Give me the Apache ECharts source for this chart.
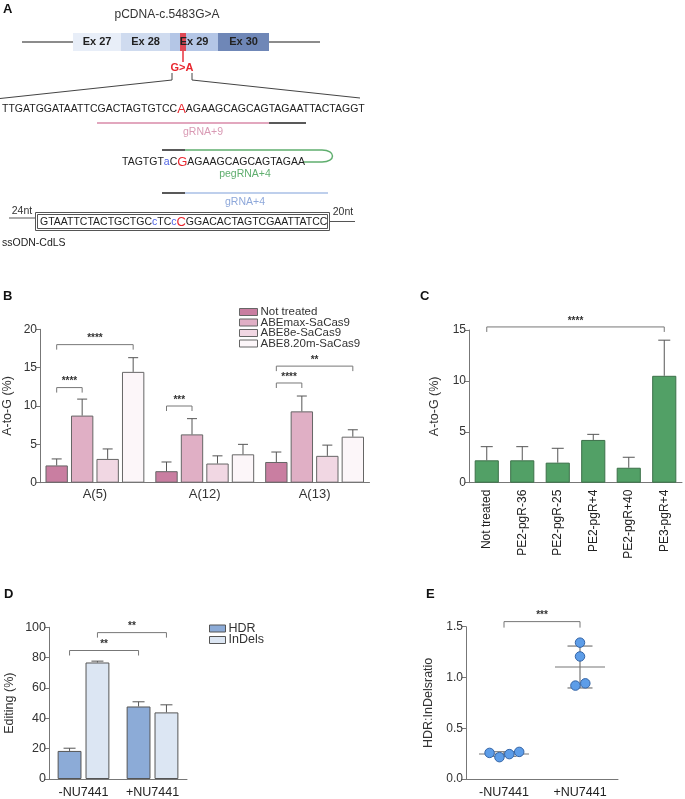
<!DOCTYPE html>
<html>
<head>
<meta charset="utf-8">
<script src="https://cdn.jsdelivr.net/npm/echarts@6/dist/echarts.min.js"></script>
<style>
  html, body { margin: 0; background: #fff; }
  #main { width: 685px; height: 799px; }
</style>
</head>
<body>
<div id="main"></div>
<script>
// ---- panel B: base editors ----
var groupsB = ['A(5)', 'A(12)', 'A(13)'];
var editorsB = ['Not treated', 'ABEmax-SaCas9', 'ABE8e-SaCas9', 'ABE8.20m-SaCas9'];
var notTreatedB = [2.25, 1.5, 2.7];
var notTreatedSdB = [0.85, 1.2, 1.3];
var abeMaxB = [8.75, 6.3, 9.3];
var abeMaxSdB = [2.15, 2.05, 2.0];
var abe8eB = [3.1, 2.5, 3.5];
var abe8eSdB = [1.3, 1.0, 1.4];
var abe820mB = [14.45, 3.7, 6.0];
var abe820mSdB = [1.85, 1.3, 0.9];
// [group, editor, group, editor, y, stars]
var bracketsB = [
  [0, 0, 0, 3, 18.0, '****'],
  [0, 0, 0, 1, 12.4, '****'],
  [1, 0, 1, 1, 10.0, '***'],
  [2, 0, 2, 1, 13.0, '****'],
  [2, 0, 2, 3, 15.2, '**']
];

// ---- panel C: prime editing ----
var treatC = ['Not treated', 'PE2-pgR-36', 'PE2-pgR-25', 'PE2-pgR+4', 'PE2-pgR+40', 'PE3-pgR+4'];
var valuesC = [2.2, 2.2, 1.97, 4.2, 1.47, 10.5];
var sdC = [1.34, 1.34, 1.41, 0.55, 1.03, 3.5];
var bracketsC = [[0, 0, 5, 0, 15.3, '****']];

// ---- panel D: HDR vs InDels ----
var condD = ['-NU7441', '+NU7441'];
var hdrD = [18.5, 47.8];
var hdrSdD = [1.8, 3.1];
var indelsD = [76.8, 43.9];
var indelsSdD = [0.9, 5.0];
var bracketsD = [[0, 0, 1, 0, 84.7, '**'], [0, 1, 1, 1, 96.5, '**']];

// ---- panel E: HDR:InDels ratio ----
var condE = ['-NU7441', '+NU7441'];
var ratioMinus = [0.257, 0.215, 0.245, 0.267];
var ratioPlus = [1.343, 1.207, 0.92, 0.942];
var jitterMinus = [-0.19, -0.06, 0.07, 0.2];
var jitterPlus = [0, 0, -0.06, 0.07];
var bracketE = [0.5, 1.5, 1.55, '***'];

var F = "'Liberation Sans', Arial, sans-serif";
var FN = "'Liberation Sans Narrow', 'Liberation Sans', Arial, sans-serif";

var chart = echarts.init(document.getElementById('main'), null, { renderer: 'canvas' });

function barOffset(band, pos, n, catGap, barGap) {
  var used = band * (1 - catGap);
  var w = used / (n + (n - 1) * barGap);
  return -used / 2 + pos * w * (1 + barGap) + w / 2;
}

function errSeries(idx, vals, sds, pos, n, catGap, barGap, capW) {
  return {
    type: 'custom', xAxisIndex: idx, yAxisIndex: idx, z: 5, silent: true,
    data: vals.map(function (v, i) { return [i, v, v + sds[i]]; }),
    renderItem: function (params, api) {
      var band = api.size([1, 0])[0];
      var x = api.coord([api.value(0), 0])[0] + barOffset(band, pos, n, catGap, barGap);
      var y0 = api.coord([0, api.value(1)])[1];
      var y1 = api.coord([0, api.value(2)])[1];
      var st = { stroke: '#555', lineWidth: 1 };
      return { type: 'group', children: [
        { type: 'line', shape: { x1: x, y1: y0, x2: x, y2: y1 }, style: st },
        { type: 'line', shape: { x1: x - capW / 2, y1: y1, x2: x + capW / 2, y2: y1 }, style: st }
      ] };
    }
  };
}

function bracketSeries(idx, list, n, catGap, barGap) {
  return {
    type: 'custom', xAxisIndex: idx, yAxisIndex: idx, z: 6, silent: true, clip: false,
    data: list.map(function (b) { return [b[0], b[4]]; }),
    renderItem: function (params, api) {
      var b = list[params.dataIndex];
      var band = api.size([1, 0])[0];
      var xa = api.coord([b[0], 0])[0] + barOffset(band, b[1], n, catGap, barGap);
      var xb = api.coord([b[2], 0])[0] + barOffset(band, b[3], n, catGap, barGap);
      var y = api.coord([0, b[4]])[1];
      return { type: 'group', children: [
        { type: 'polyline', shape: { points: [[xa, y + 5], [xa, y], [xb, y], [xb, y + 5]] },
          style: { stroke: '#777', fill: null, lineWidth: 1 } },
        { type: 'text', x: (xa + xb) / 2, y: y - 1,
          style: { text: b[5], fill: '#333', font: 'bold 10px ' + F, align: 'center', verticalAlign: 'bottom',
                   textAlign: 'center', textVerticalAlign: 'bottom' } }
      ] };
    }
  };
}

function barSeries(idx, name, vals, color, border, catGap, barGap) {
  return {
    type: 'bar', name: name, xAxisIndex: idx, yAxisIndex: idx,
    data: vals, barCategoryGap: catGap, barGap: barGap,
    itemStyle: { color: color, borderColor: border, borderWidth: 1 },
    silent: true
  };
}

function yAxisOf(idx, min, max, step, name, gap, size, fmt) {
  return {
    type: 'value', gridIndex: idx, min: min, max: max, interval: step,
    name: name, nameLocation: 'middle', nameGap: gap,
    nameTextStyle: { color: '#333', fontSize: 12.5, fontFamily: F },
    axisLine: { show: true, lineStyle: { color: '#777' } },
    axisTick: { show: true, length: 4, lineStyle: { color: '#777' } },
    axisLabel: { color: '#333', fontSize: size, margin: 3, fontFamily: F, formatter: fmt },
    splitLine: { show: false }
  };
}

function xCatOf(idx, data, label) {
  return {
    type: 'category', gridIndex: idx, data: data,
    axisLine: { lineStyle: { color: '#777' } },
    axisTick: { show: false },
    axisLabel: label
  };
}

// mean / SD for panel E
function meanSd(a) {
  var m = a.reduce(function (s, v) { return s + v; }, 0) / a.length;
  var v = a.reduce(function (s, x) { return s + (x - m) * (x - m); }, 0) / (a.length - 1);
  return [m, Math.sqrt(v)];
}
var statMinus = meanSd(ratioMinus);
var statPlus = meanSd(ratioPlus);

// ---- schematic (panel A) ----
function txt(x, y, s, font, fill, align) {
  return { type: 'text', x: x, y: y, silent: true,
    style: { text: s, font: font, fill: fill || '#222', align: align || 'left', verticalAlign: 'middle',
             textAlign: align || 'left', textVerticalAlign: 'middle' } };
}
function ln(x1, y1, x2, y2, color, w) {
  return { type: 'line', silent: true, shape: { x1: x1, y1: y1, x2: x2, y2: y2 },
    style: { stroke: color, lineWidth: w || 1 } };
}
function richTxt(x, y, s, rich) {
  return { type: 'text', x: x, y: y, silent: true,
    style: { text: s, rich: rich, font: '10.5px ' + F, fill: '#222', align: 'left', verticalAlign: 'middle',
             textAlign: 'left', textVerticalAlign: 'middle' } };
}
var seqRich = {
  k: { fill: '#222', font: '10.5px ' + F },
  r: { fill: '#e8262e', font: '13px ' + F },
  b: { fill: '#4f63e6', font: '10.5px ' + F }
};
var exons = [
  ['Ex 27', 73, 121, '#e8eef8'],
  ['Ex 28', 121, 170, '#cfdbef'],
  ['Ex 29', 170, 218, '#b4c6e6'],
  ['Ex 30', 218, 269, '#6f87b7']
];
var graphics = [
  txt(3, 9, 'A', 'bold 13px ' + F, '#111'),
  txt(167, 15, 'pCDNA-c.5483G>A', '12px ' + F, '#333', 'center'),
  ln(22, 42, 320, 42, '#666', 1.5)
];
exons.forEach(function (e) {
  graphics.push({ type: 'rect', silent: true, shape: { x: e[1], y: 33, width: e[2] - e[1], height: 18 },
    style: { fill: e[3] } });
});
graphics.push(
  { type: 'rect', silent: true, shape: { x: 180, y: 33, width: 6, height: 18 }, style: { fill: '#e8323c', opacity: 0.85 } }
);
exons.forEach(function (e) {
  graphics.push(txt((e[1] + e[2]) / 2, 42, e[0], 'bold 11px ' + F, '#222', 'center'));
});
graphics.push(
  ln(183, 51, 183, 62, '#e8323c', 1.5),
  txt(182, 68, 'G>A', 'bold 11px ' + F, '#e8262e', 'center'),
  { type: 'polyline', silent: true, shape: { points: [[172, 73], [172, 80], [0, 98.5]] }, style: { stroke: '#444', fill: null } },
  { type: 'polyline', silent: true, shape: { points: [[192, 73], [192, 80], [360, 98]] }, style: { stroke: '#444', fill: null } },
  richTxt(2, 109, '{k|TTGATGGATAATTCGACTAGTGTCC}{r|A}{k|AGAAGCAGCAGTAGAATTACTAGGT}', seqRich),
  ln(97, 123, 269, 123, '#d98aa8', 1.5),
  ln(269, 123, 306, 123, '#222', 1.5),
  txt(203, 132, 'gRNA+9', '10.5px ' + F, '#d99ab4', 'center'),
  ln(162, 150, 185, 150, '#222', 1.5),
  ln(185, 150, 322, 150, '#5fae6e', 1.5),
  { type: 'bezierCurve', silent: true,
    shape: { x1: 322, y1: 150, x2: 322, y2: 162, cpx1: 336, cpy1: 150, cpx2: 336, cpy2: 162 },
    style: { stroke: '#5fae6e', fill: null, lineWidth: 1.5 } },
  ln(322, 162, 303, 162, '#5fae6e', 1.5),
  richTxt(122, 162, '{k|TAGTGT}{b|a}{k|C}{r|G}{k|AGAAGCAGCAGTAGAA}', seqRich),
  txt(245, 174, 'pegRNA+4', '10.5px ' + F, '#5fae6e', 'center'),
  ln(162, 193, 185, 193, '#222', 1.5),
  ln(185, 193, 328, 193, '#a8bfe6', 1.5),
  txt(245, 202, 'gRNA+4', '10.5px ' + F, '#8ea8da', 'center'),
  txt(22, 211, '24nt', '10.5px ' + F, '#333', 'center'),
  ln(9, 218, 35, 218, '#555', 1),
  { type: 'rect', silent: true, shape: { x: 35.5, y: 212.5, width: 294, height: 18 }, style: { fill: null, stroke: '#555', lineWidth: 1 } },
  { type: 'rect', silent: true, shape: { x: 37.5, y: 214.5, width: 290, height: 14 }, style: { fill: null, stroke: '#555', lineWidth: 1 } },
  richTxt(40, 222, '{k|GTAATTCTACTGCTGC}{b|c}{k|TC}{b|c}{r|C}{k|GGACACTAGTCGAATTATCC}', seqRich),
  txt(343, 212, '20nt', '10.5px ' + F, '#333', 'center'),
  ln(329, 221.5, 355, 221.5, '#555', 1),
  txt(2, 243, 'ssODN-CdLS', '10.5px ' + F, '#222'),
  txt(3, 296, 'B', 'bold 13px ' + F, '#111'),
  txt(420, 296, 'C', 'bold 13px ' + F, '#111'),
  txt(4, 594, 'D', 'bold 13px ' + F, '#111'),
  txt(426, 594, 'E', 'bold 13px ' + F, '#111')
);

var colorsB = ['#c97ea1', '#e0afc5', '#f1d7e3', '#fcf6f9'];
var seriesB = [notTreatedB, abeMaxB, abe8eB, abe820mB];
var sdsB = [notTreatedSdB, abeMaxSdB, abe8eSdB, abe820mSdB];
var gapB = [0.1, 0.14];
var gapC = [0.32, 0];
var gapD = [0.25, 0.17];

var series = [];
seriesB.forEach(function (vals, i) {
  series.push(barSeries(0, editorsB[i], vals, colorsB[i], '#666', '10%', '14%'));
});
seriesB.forEach(function (vals, i) {
  series.push(errSeries(0, vals, sdsB[i], i, 4, gapB[0], gapB[1], 10));
});
series.push(bracketSeries(0, bracketsB, 4, gapB[0], gapB[1]));

series.push(barSeries(1, 'PE', valuesC, '#52a066', '#3c7049', '32%', '0%'));
series.push(errSeries(1, valuesC, sdC, 0, 1, gapC[0], gapC[1], 12));
series.push(bracketSeries(1, bracketsC, 1, gapC[0], gapC[1]));

series.push(barSeries(2, 'HDR', hdrD, '#8cabd7', '#555', '25%', '17%'));
series.push(barSeries(2, 'InDels', indelsD, '#dce6f3', '#555', '25%', '17%'));
series.push(errSeries(2, hdrD, hdrSdD, 0, 2, gapD[0], gapD[1], 12));
series.push(errSeries(2, indelsD, indelsSdD, 1, 2, gapD[0], gapD[1], 12));
series.push(bracketSeries(2, bracketsD, 2, gapD[0], gapD[1]));

// panel E: mean +/- SD, points, bracket
series.push({
  type: 'custom', xAxisIndex: 4, yAxisIndex: 3, silent: true, z: 3,
  data: [[0.5, statMinus[0], statMinus[1]], [1.5, statPlus[0], statPlus[1]]],
  renderItem: function (params, api) {
    var c = api.coord([api.value(0), api.value(1)]);
    var top = api.coord([api.value(0), api.value(1) + api.value(2)])[1];
    var bot = api.coord([api.value(0), api.value(1) - api.value(2)])[1];
    var st = { stroke: '#777', lineWidth: 1.2 };
    return { type: 'group', children: [
      { type: 'line', shape: { x1: c[0] - 25, y1: c[1], x2: c[0] + 25, y2: c[1] }, style: st },
      { type: 'line', shape: { x1: c[0], y1: top, x2: c[0], y2: bot }, style: st },
      { type: 'line', shape: { x1: c[0] - 12.5, y1: top, x2: c[0] + 12.5, y2: top }, style: st },
      { type: 'line', shape: { x1: c[0] - 12.5, y1: bot, x2: c[0] + 12.5, y2: bot }, style: st }
    ] };
  }
});
series.push({
  type: 'scatter', xAxisIndex: 4, yAxisIndex: 3, silent: true, z: 4,
  symbolSize: 9.5,
  itemStyle: { color: '#5d9de8', borderColor: '#3565a6', borderWidth: 1, opacity: 1 },
  data: ratioMinus.map(function (v, i) { return [0.5 + jitterMinus[i], v]; })
    .concat(ratioPlus.map(function (v, i) { return [1.5 + jitterPlus[i], v]; }))
});
series.push({
  type: 'custom', xAxisIndex: 4, yAxisIndex: 3, silent: true, clip: false, z: 6,
  data: [[bracketE[0], bracketE[2]]],
  renderItem: function (params, api) {
    var a = api.coord([bracketE[0], bracketE[2]]);
    var b = api.coord([bracketE[1], bracketE[2]]);
    return { type: 'group', children: [
      { type: 'polyline', shape: { points: [[a[0], a[1] + 6], a, b, [b[0], b[1] + 6]] },
        style: { stroke: '#777', fill: null, lineWidth: 1 } },
      { type: 'text', x: (a[0] + b[0]) / 2, y: a[1] - 1,
        style: { text: bracketE[3], fill: '#333', font: 'bold 10px ' + F, align: 'center', verticalAlign: 'bottom',
                 textAlign: 'center', textVerticalAlign: 'bottom' } }
    ] };
  }
});

var option = {
  animation: false,
  backgroundColor: '#fff',
  textStyle: { fontFamily: F },
  graphic: { elements: graphics },
  legend: [
    {
      data: editorsB, orient: 'vertical', left: 234, top: 301,
      itemWidth: 18, itemHeight: 7, itemGap: -1.5, icon: 'rect',
      textStyle: { fontSize: 11.5, color: '#333', fontFamily: F, lineHeight: 10, padding: [0, 0, 0, -2] },
      itemStyle: { borderColor: '#666', borderWidth: 1 }
    },
    {
      data: ['HDR', 'InDels'], orient: 'vertical', left: 204, top: 617,
      itemWidth: 16, itemHeight: 7, itemGap: -1.5, icon: 'rect',
      textStyle: { fontSize: 12.5, color: '#333', fontFamily: F, lineHeight: 11, padding: [0, 0, 0, -2] },
      itemStyle: { borderColor: '#555', borderWidth: 1 }
    }
  ],
  grid: [
    { left: 40, top: 329.3, width: 329.5, height: 153.4 },
    { left: 469, top: 330, width: 213, height: 152.7 },
    { left: 49, top: 627.3, width: 138, height: 152.7 },
    { left: 466, top: 626.7, width: 152, height: 153.3 }
  ],
  xAxis: [
    xCatOf(0, groupsB, { color: '#333', fontSize: 13, margin: 5, fontFamily: F, interval: 0 }),
    xCatOf(1, treatC, { color: '#222', fontSize: 12, margin: 7, rotate: 90, fontFamily: FN, interval: 0 }),
    xCatOf(2, condD, { color: '#222', fontSize: 12.5, margin: 7, fontFamily: FN, interval: 0 }),
    xCatOf(3, condE, { color: '#222', fontSize: 12.5, margin: 7, fontFamily: FN, interval: 0 }),
    { type: 'value', gridIndex: 3, min: 0, max: 2, show: false }
  ],
  yAxis: [
    yAxisOf(0, 0, 20, 5, 'A-to-G (%)', 26, 12),
    yAxisOf(1, 0, 15, 5, 'A-to-G (%)', 28, 12),
    yAxisOf(2, 0, 100, 20, 'Editing (%)', 33, 12.5),
    yAxisOf(3, 0, 1.5, 0.5, 'HDR:InDelsratio', 31, 12, function (v) { return v.toFixed(1); })
  ],
  series: series
};

chart.setOption(option);
</script>
</body>
</html>
